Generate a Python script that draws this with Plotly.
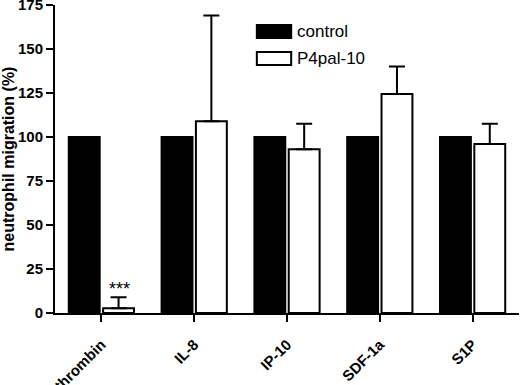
import plotly.graph_objects as go

categories = ["thrombin", "IL-8", "IP-10", "SDF-1a", "S1P"]
series_names = ["control", "P4pal-10"]
control_values = [100, 100, 100, 100, 100]
p4pal_values = [2.7, 109, 93, 124.5, 96]
p4pal_errors = [6.3, 60, 14.5, 15.5, 11.5]
significance = ["***", "", "", "", ""]
y_ticks = [0, 25, 50, 75, 100, 125, 150, 175]

FONT = "Arial, Liberation Sans, sans-serif"

fig = go.Figure()
fig.add_trace(go.Bar(
    x=categories, y=control_values, name=series_names[0],
    marker=dict(color="black", line=dict(color="black", width=2)),
    showlegend=False,
))
fig.add_trace(go.Bar(
    x=categories, y=p4pal_values, name=series_names[1],
    marker=dict(color="white", line=dict(color="black", width=2)),
    error_y=dict(type="data", array=p4pal_errors, arrayminus=[0]*len(p4pal_errors),
                 symmetric=False, color="black", thickness=2, width=8),
    showlegend=False,
))

# significance markers
for i, s in enumerate(significance):
    if s:
        fig.add_annotation(
            x=categories[i], y=p4pal_values[i] + p4pal_errors[i], text=s,
            xref="x", yref="y", xshift=18.5, yshift=8, showarrow=False,
            font=dict(family=FONT, size=18, color="black"),
        )

# custom legend (wide boxes as in reference)
legend_rows = [(series_names[0], "black", 0.935, 0.893), (series_names[1], "white", 0.847, 0.805)]
for name, fill, y1, y0 in legend_rows:
    fig.add_shape(type="rect", xref="paper", yref="paper", x0=0.435, x1=0.509, y0=y0, y1=y1,
                  fillcolor=fill, line=dict(color="black", width=2))
    fig.add_annotation(x=0.517, y=(y0 + y1) / 2, xref="paper", yref="paper", text=name,
                       xanchor="left", yanchor="middle", showarrow=False,
                       font=dict(family=FONT, size=17, color="black"))

fig.update_layout(
    width=520, height=385,
    margin=dict(l=55, r=1, t=5, b=72, autoexpand=False),
    paper_bgcolor="white", plot_bgcolor="white",
    barmode="group", bargap=0.26, bargroupgap=0.1,
    font=dict(family=FONT, color="black"),
)
fig.update_xaxes(
    showline=True, linecolor="black", linewidth=2, ticks="outside", ticklen=7,
    tickwidth=2, tickcolor="black", tickangle=-45, automargin=False,
    ticklabelstandoff=8, ticklabeloverflow="allow",
    tickfont=dict(family=FONT, size=15, color="black", weight="bold"),
    showgrid=False,
)
fig.update_yaxes(
    range=[0, 175], tickvals=y_ticks, showline=True, linecolor="black", linewidth=2,
    ticks="outside", ticklen=7, tickwidth=2, tickcolor="black", automargin=False,
    ticklabeloverflow="allow",
    tickfont=dict(family=FONT, size=15, color="black", weight="bold"),
    showgrid=False, zeroline=False,
    title=dict(text="neutrophil migration (%)", standoff=6,
               font=dict(family=FONT, size=16, color="black", weight="bold")),
)

fig.write_html("out.html", config={"displayModeBar": False},
               post_script="document.body.style.margin='0';")
